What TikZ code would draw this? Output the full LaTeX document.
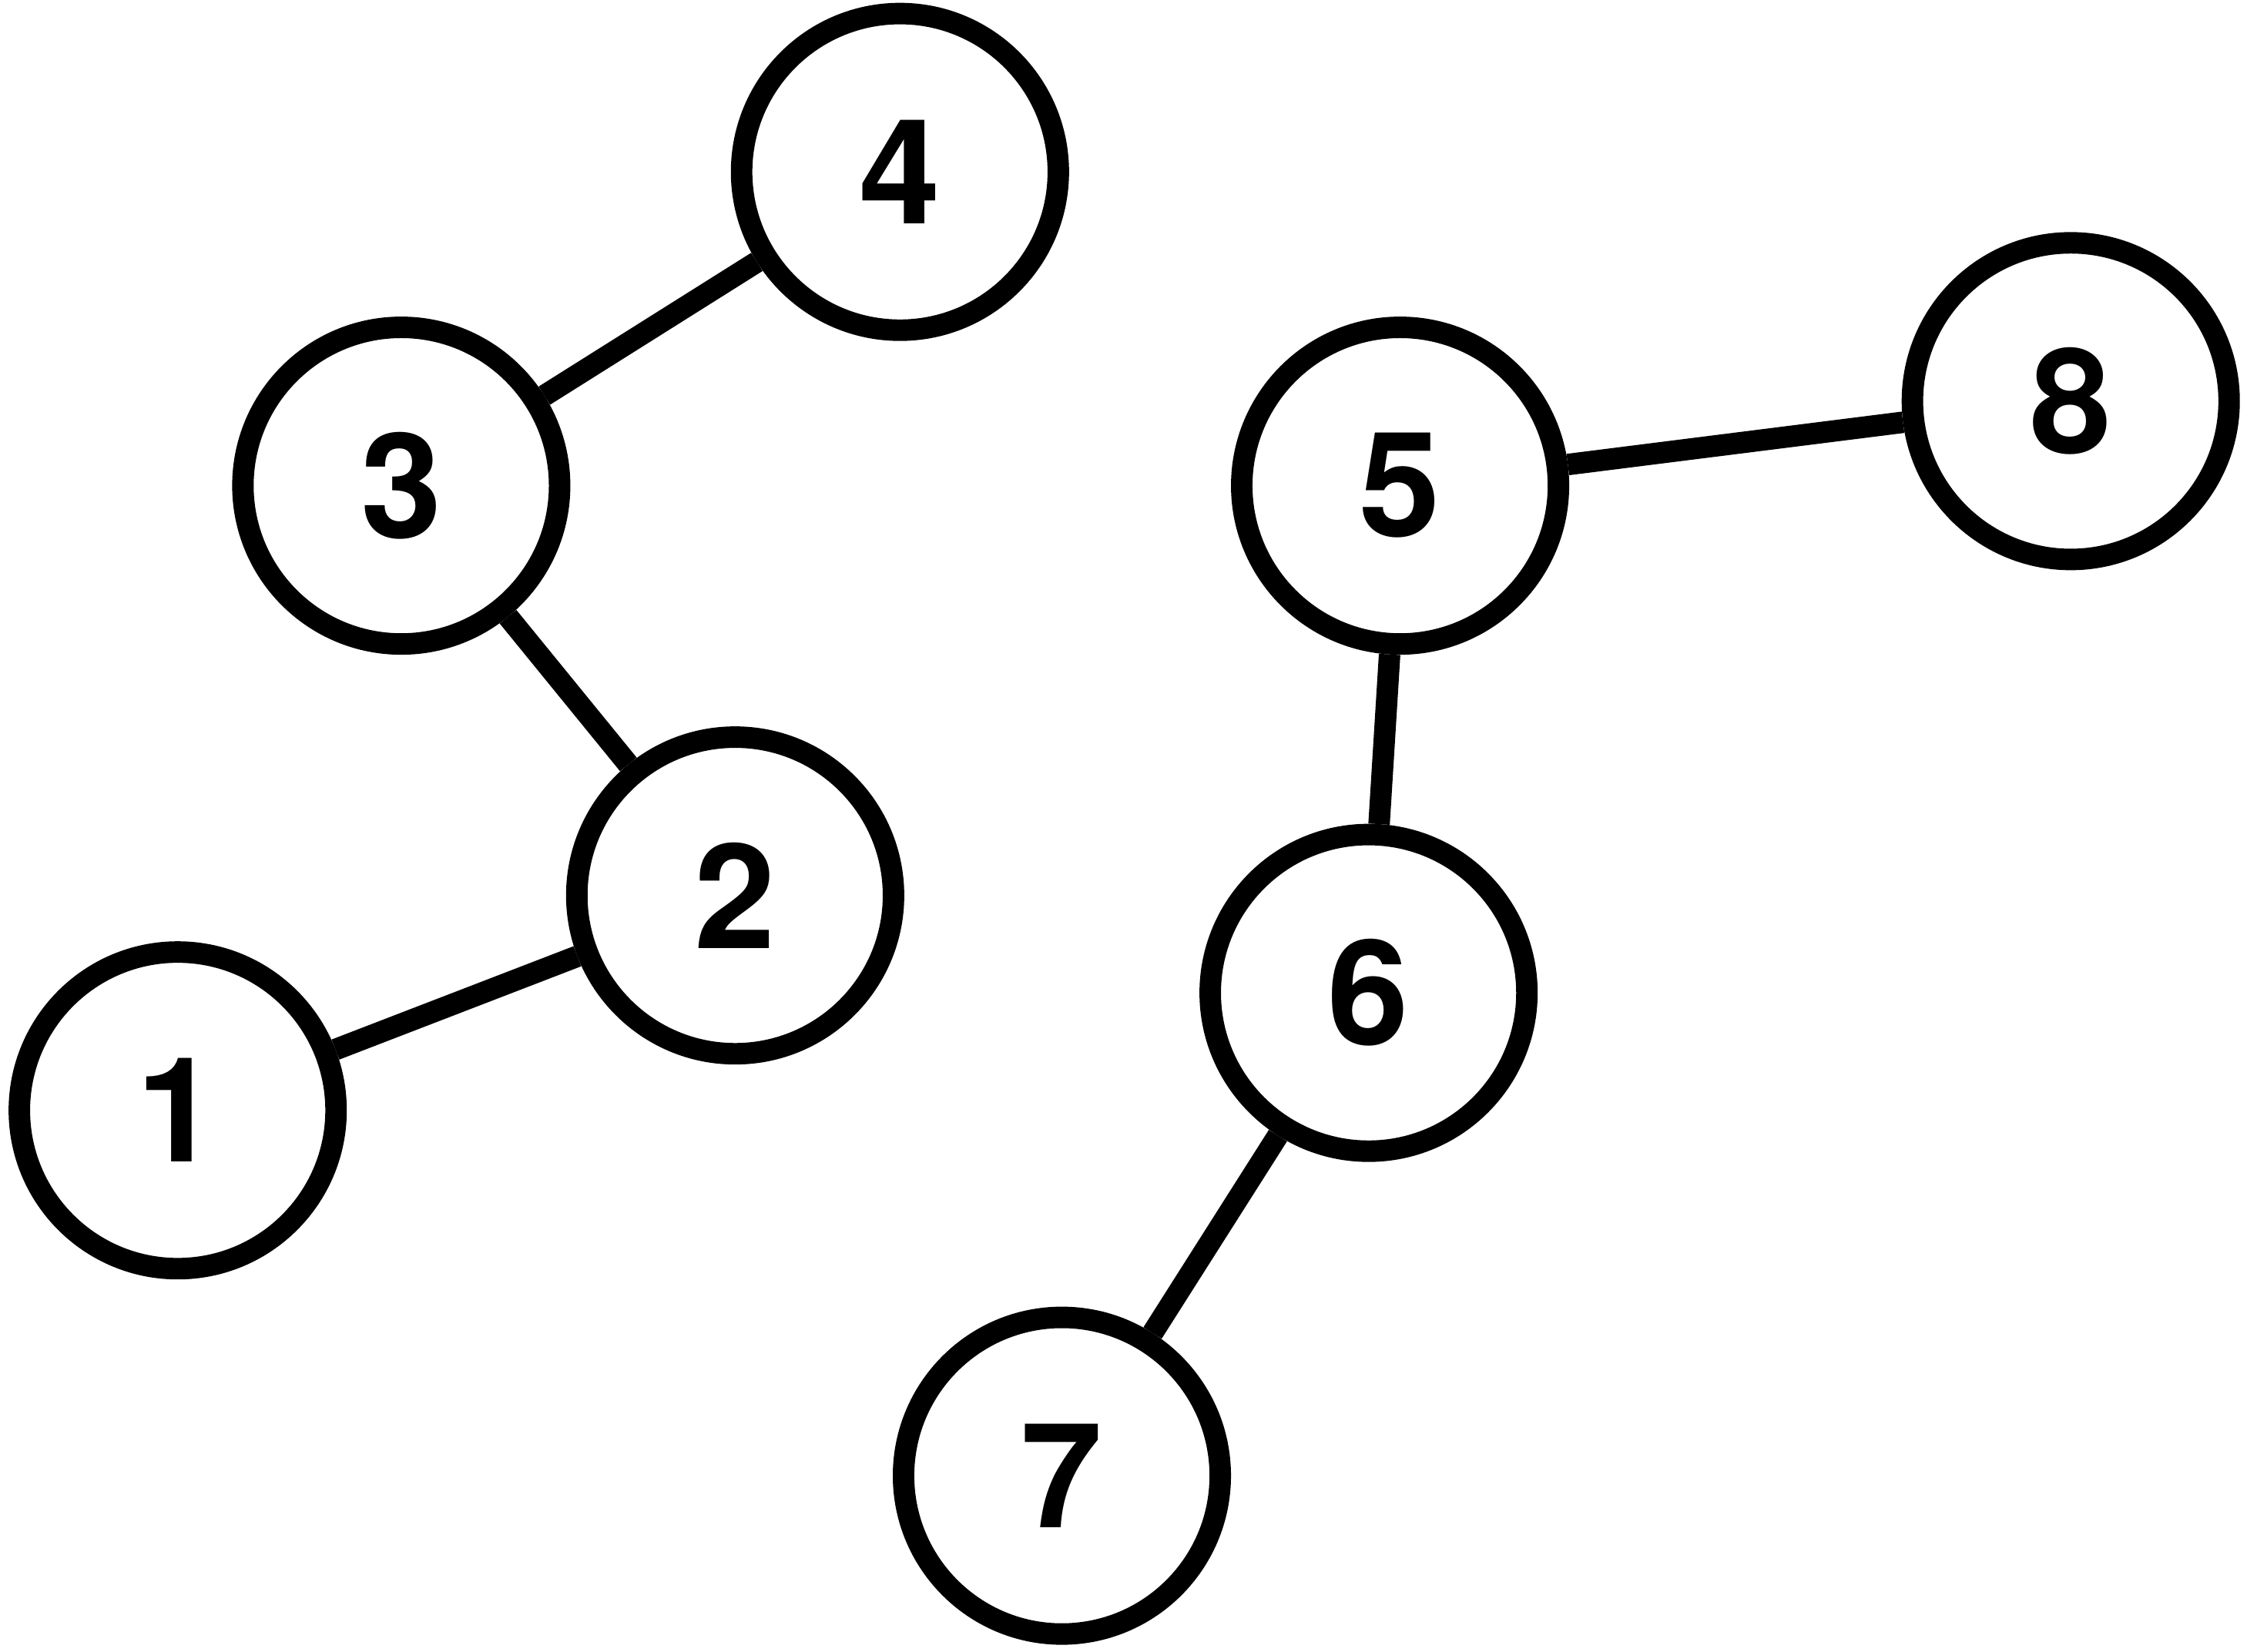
\documentclass[tikz,border=0pt]{standalone}
\usepackage{fontspec}
\setmainfont{TeX Gyre Heros}
\usepackage{tikz}
\usetikzlibrary{shapes.geometric}

\begin{document}
\begin{tikzpicture}[
   vertex/.style={
      circle,
      draw,
      minimum size=2.21cm,
      line width=.15cm,
      font=\fontsize{29}{29}\selectfont\bfseries
   },
   link/.style={
      line width=.15cm
   }
]
   \useasboundingbox (0,0) rectangle (15.68,11.53);

   \node[vertex] (v1) at (1.24,3.78) {1};
   \node[vertex] (v2) at (5.13,5.28) {2};
   \node[vertex] (v3) at (2.80,8.14) {3};
   \node[vertex] (v4) at (6.28,10.33) {4};
   \node[vertex] (v5) at (9.77,8.14) {5};
   \node[vertex] (v6) at (9.55,4.60) {6};
   \node[vertex] (v7) at (7.41,1.23) {7};
   \node[vertex] (v8) at (14.45,8.73) {8};

   \foreach \a/\b in {3/4,3/2,2/1,5/8,5/6,6/7}
   \draw[link] (v\a) -- (v\b);

\end{tikzpicture}
\end{document}
